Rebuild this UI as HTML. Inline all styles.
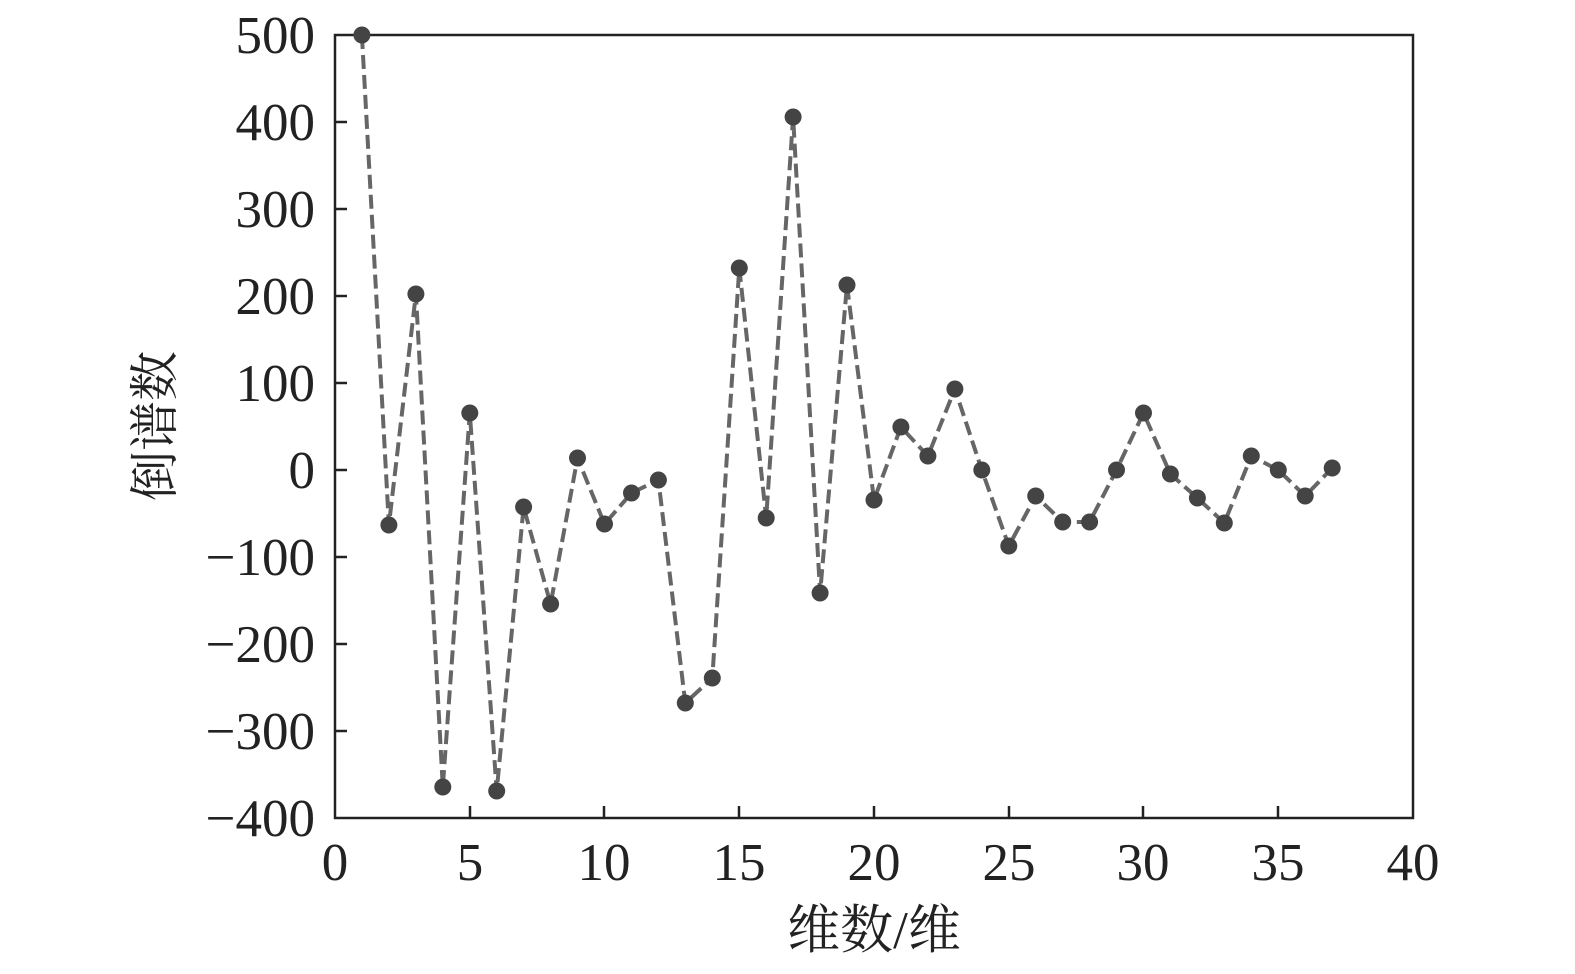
<!DOCTYPE html>
<html><head><meta charset="utf-8"><style>
html,body{margin:0;padding:0;background:#fff;overflow:hidden;}
svg{display:block;}
text{font-family:"Liberation Serif","Noto Serif CJK SC",serif;fill:#222;}
</style></head><body>
<svg width="1575" height="974" viewBox="0 0 1575 974">
<rect x="335" y="35" width="1078" height="783" fill="none" stroke="#222" stroke-width="2.5"/>
<g stroke="#222" stroke-width="2.5">
<line x1="335" y1="122" x2="347" y2="122"/><line x1="335" y1="209" x2="347" y2="209"/>
<line x1="335" y1="296" x2="347" y2="296"/><line x1="335" y1="383" x2="347" y2="383"/>
<line x1="335" y1="470" x2="347" y2="470"/><line x1="335" y1="557" x2="347" y2="557"/>
<line x1="335" y1="644" x2="347" y2="644"/><line x1="335" y1="731" x2="347" y2="731"/>
<line x1="470" y1="818" x2="470" y2="806"/><line x1="604" y1="818" x2="604" y2="806"/>
<line x1="739" y1="818" x2="739" y2="806"/><line x1="874" y1="818" x2="874" y2="806"/>
<line x1="1009" y1="818" x2="1009" y2="806"/><line x1="1143" y1="818" x2="1143" y2="806"/>
<line x1="1278" y1="818" x2="1278" y2="806"/>
</g>
<g font-size="53" text-anchor="end">
<text x="315" y="53">500</text><text x="315" y="140">400</text><text x="315" y="227">300</text>
<text x="315" y="314">200</text><text x="315" y="401">100</text><text x="315" y="488">0</text>
<text x="315" y="575">−100</text><text x="315" y="662">−200</text><text x="315" y="749">−300</text>
<text x="315" y="836">−400</text>
</g>
<g font-size="53" text-anchor="middle">
<text x="335" y="880">0</text><text x="470" y="880">5</text><text x="604" y="880">10</text>
<text x="739" y="880">15</text><text x="874" y="880">20</text><text x="1009" y="880">25</text>
<text x="1143" y="880">30</text><text x="1278" y="880">35</text><text x="1413" y="880">40</text>
<text x="874" y="948">维数/维</text>
</g>
<text font-size="50" text-anchor="middle" transform="translate(172,426) rotate(-90)">倒谱数</text>
<g id="s"></g>
</svg>
<script>
var ys=[35,525,294,787,413,791,507,604,458,524,493,480,703,678,268,518,117,593,285,500,427,456,389,470,546,496,522,522,470,413,474,498,523,456,470,496,468];
var pts=ys.map(function(y,i){return (335+(i+1)*26.95).toFixed(1)+","+y;});
var h='<polyline points="'+pts.join(" ")+'" fill="none" stroke="#666" stroke-width="4" stroke-dasharray="14,6"/>';
pts.forEach(function(p){var a=p.split(",");h+='<circle cx="'+a[0]+'" cy="'+a[1]+'" r="8.5" fill="#444"/>';});
document.getElementById("s").innerHTML=h;
</script>
</body></html>
